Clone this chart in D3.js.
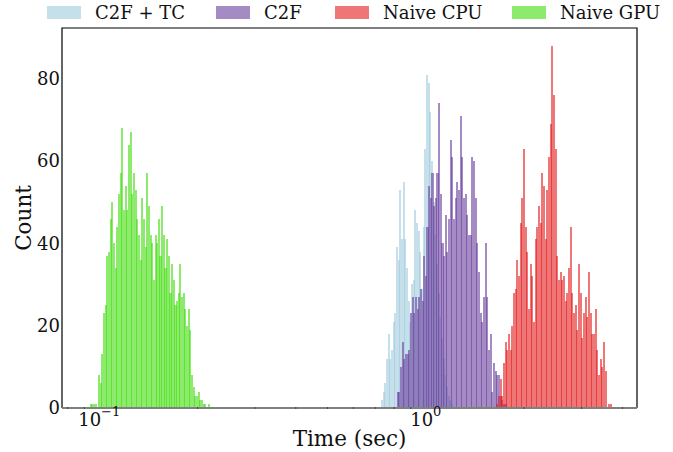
<!DOCTYPE html>
<html>
<head>
<meta charset="utf-8">
<script src="https://cdn.jsdelivr.net/npm/d3@7"></script>
<style>
  body { margin: 0; background: #fff; }
  svg { display: block; font-family: "DejaVu Serif", serif; }
</style>
</head>
<body>
<svg id="chart" width="673" height="452"></svg>
<script>
// series names, in legend order
const seriesNames = ["C2F + TC", "C2F", "Naive CPU", "Naive GPU"];
const seriesColors = ["#9ecade", "#693e9d", "#e31a1c", "#3fde0c"];

// every histogram uses the same log-spaced bin width (ratio between bin edges)
const binRatio = Math.pow(10, 0.0051);

// left edge (sec) of the first bin of each series
const binStart = { "C2F + TC": 0.7286, "C2F": 0.8135, "Naive CPU": 1.6452, "Naive GPU": 0.09339 };

// counts per bin
const countsC2FTC = [2,4,6,12,18,12,14,21,23,39,36,53,41,55,41,34,26,21,30,31,48,45,43,38,29,44,63,81,79,72,60,
  50,42,35,28,22,17,12,8,5,3,2,1];
const countsC2F = [4,4,10,16,12,13,13,14,23,27,23,27,24,27,29,26,37,32,44,54,51,57,49,51,57,74,52,40,37,47,
  38,46,65,61,46,51,55,53,71,61,51,52,47,42,42,61,60,51,40,33,23,21,27,40,27,14,18,4,11,9,8,8,3,2,1,1];
const countsCPU = [1,3,7,3,11,16,14,18,14,20,28,29,36,32,45,51,63,44,38,24,35,32,21,41,44,49,45,57,54,41,
  53,61,69,88,76,63,37,31,33,31,32,26,28,34,44,28,23,25,19,35,28,17,23,27,22,33,23,18,18,24,14,8,12,10,16,9,0,1,1];
const countsGPU = [1,1,1,1,0,8,6,13,23,25,37,38,46,50,40,34,44,52,57,68,48,54,48,64,67,52,57,53,46,42,36,51,
  46,39,57,49,42,40,31,42,40,46,37,49,42,34,41,37,28,35,31,25,26,28,35,27,28,24,20,24,19,8,5,3,3,4,2,2,1,1,0,1];

const yTicks = [0, 20, 40, 60, 80];
const xTicks = [0.1, 1];
const xMinorTicks = [0.08, 0.09, 0.2, 0.3, 0.4, 0.5, 0.6, 0.7, 0.8, 0.9, 2, 3, 4];

const countsByName = { "C2F + TC": countsC2FTC, "C2F": countsC2F, "Naive CPU": countsCPU, "Naive GPU": countsGPU };

const margin = { top: 28, right: 36, bottom: 44, left: 62 };
const width = 673, height = 452;
const svg = d3.select("#chart");

const x = d3.scaleLog()
  .domain([0.0769, 4.434])
  .range([margin.left, width - margin.right]);
const y = d3.scaleLinear()
  .domain([0, 92.3])
  .range([height - margin.bottom, margin.top]);

// build bins
const bars = [];
seriesNames.forEach((name, si) => {
  countsByName[name].forEach((c, i) => {
    if (c <= 0) return;
    const x0 = binStart[name] * Math.pow(binRatio, i);
    bars.push({ name, color: seriesColors[si], x0, x1: x0 * binRatio, count: c });
  });
});

// bars are snapped to pixels, neighbours overlap or leave a gap like in the original
svg.append("g")
  .attr("shape-rendering", "crispEdges")
  .selectAll("rect")
  .data(bars)
  .join("rect")
  .attr("x", d => x(d.x0))
  .attr("width", d => x(d.x1) - x(d.x0) + 0.35)
  .attr("y", d => y(d.count))
  .attr("height", d => y(0) - y(d.count))
  .attr("fill", d => d.color)
  .attr("fill-opacity", 0.6);

// frame
const x0 = margin.left, x1 = width - margin.right, y0 = height - margin.bottom, y1 = margin.top;
svg.append("path")
  .attr("d", `M${x0},${y0}V${y1}H${x1}V${y0}`)
  .attr("fill", "none").attr("stroke", "#000").attr("stroke-width", 1.2);
svg.append("line")
  .attr("x1", x0).attr("x2", x1).attr("y1", y0).attr("y2", y0)
  .attr("stroke", "#808080").attr("stroke-width", 2);

// minor ticks on the x axis
svg.append("g")
  .selectAll("line")
  .data(xMinorTicks)
  .join("line")
  .attr("x1", d => x(d)).attr("x2", d => x(d))
  .attr("y1", y0 - 1).attr("y2", y0 + 1)
  .attr("stroke", "#444").attr("stroke-width", 1);

// y tick labels
svg.append("g")
  .selectAll("text")
  .data(yTicks)
  .join("text")
  .attr("x", x0 - 2)
  .attr("y", d => y(d))
  .attr("dy", "0.36em")
  .attr("text-anchor", "end")
  .attr("font-size", 18)
  .attr("fill", "#111")
  .text(d => d);

// x tick labels 10^n
const xt = svg.append("g")
  .selectAll("text")
  .data(xTicks)
  .join("text")
  .attr("x", d => x(d))
  .attr("y", 426)
  .attr("text-anchor", "middle")
  .attr("font-size", 18)
  .attr("fill", "#111");
xt.append("tspan").text("10");
xt.append("tspan")
  .attr("dy", -10)
  .attr("font-size", 13)
  .text(d => Math.round(Math.log10(d)) < 0 ? "\u2212" + Math.abs(Math.round(Math.log10(d))) : Math.round(Math.log10(d)));

// axis labels
svg.append("text")
  .attr("x", (x0 + x1) / 2)
  .attr("y", 446)
  .attr("text-anchor", "middle")
  .attr("font-size", 21.5)
  .attr("fill", "#111")
  .text("Time (sec)");
svg.append("text")
  .attr("transform", `translate(31,${(y0 + y1) / 2}) rotate(-90)`)
  .attr("text-anchor", "middle")
  .attr("font-size", 21.5)
  .attr("fill", "#111")
  .text("Count");

// legend
const legendX = [47, 216, 335, 512];
const lg = svg.append("g")
  .selectAll("g")
  .data(seriesNames)
  .join("g")
  .attr("transform", (d, i) => `translate(${legendX[i]},0)`);
lg.append("rect")
  .attr("x", 0).attr("y", 6)
  .attr("width", 34).attr("height", 13)
  .attr("fill", (d, i) => seriesColors[i])
  .attr("fill-opacity", 0.6);
lg.append("text")
  .attr("x", 48).attr("y", 19)
  .attr("font-size", 18)
  .attr("fill", "#111")
  .text(d => d);
</script>
</body>
</html>
